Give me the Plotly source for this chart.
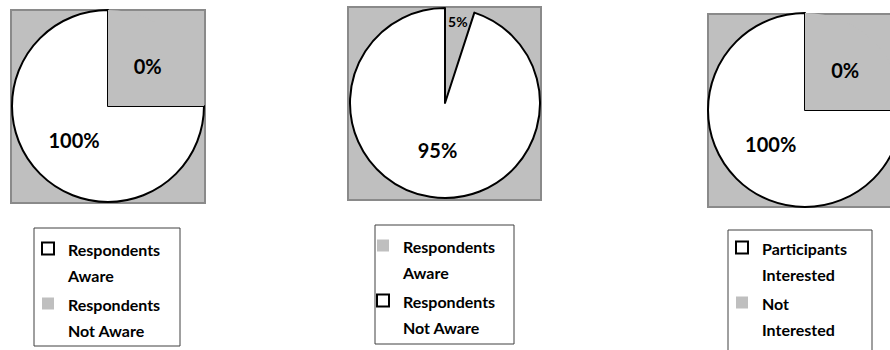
import plotly.graph_objects as go

# ---- data -------------------------------------------------------------
labels_1 = ["Respondents<br>Aware", "Respondents<br>Not Aware"]
slices_1 = [75, 25]            # shares as drawn in the reference picture
texts_1 = ["100%", "0%"]

labels_2 = ["Respondents<br>Aware\u00a0", "Respondents<br>Not Aware\u00a0"]
slices_2 = [5, 95]
texts_2 = ["5%", "95%"]

labels_3 = ["Participants<br>Interested", "Not<br>Interested"]
slices_3 = [75, 25]
texts_3 = ["100%", "0%"]

# ---- styling ----------------------------------------------------------
W, H = 905, 350
GRAY = "#BFBFBF"
WHITE = "#FFFFFF"
FONT = "Lato"


def fx(px):
    return px / W


def fy(py):
    return 1 - py / H


def styled(lbls):
    return ["<span style='font-size:16px'>" + s.replace("<br>", "</span><br><span style='font-size:16px'>") + "</span>"
            for s in lbls]


fig = go.Figure()


def add_pie(labels, values, texts, colors, widths, direction, rotation, dom_x, dom_y, legend):
    fig.add_trace(go.Pie(
        labels=styled(labels), values=values, text=texts, textinfo="text",
        textposition="inside", insidetextorientation="horizontal",
        sort=False, direction=direction, rotation=rotation,
        marker=dict(colors=colors, line=dict(color="black", width=widths)),
        textfont=dict(family=FONT, size=20, color="black", weight="bold"),
        domain=dict(x=[fx(dom_x[0]), fx(dom_x[1])], y=[fy(dom_y[1]), fy(dom_y[0])]),
        legend=legend, hoverinfo="label+text",
    ))


add_pie(labels_1, slices_1, texts_1, [WHITE, GRAY], [2, 0], "clockwise", 90,
        (12, 204), (10, 202), "legend")
add_pie(labels_2, slices_2, texts_2, [GRAY, WHITE], [0, 2], "clockwise", 0,
        (350, 540), (8, 198), "legend2")
add_pie(labels_3, slices_3, texts_3, [WHITE, GRAY], [2, 0], "clockwise", 90,
        (708, 902), (13, 207), "legend3")

shapes = []
for (x0, x1, y0, y1) in [(11, 205, 10, 203), (348, 541, 7, 200), (708, 903, 14, 207)]:
    shapes.append(dict(type="rect", xref="paper", yref="paper", layer="below",
                       x0=fx(x0), x1=fx(x1), y0=fy(y1), y1=fy(y0),
                       fillcolor=GRAY, line=dict(color="#8A8A8A", width=2)))
for (x0, x1, y0, y1) in [(34, 180, 228, 346), (375, 514, 225, 344), (728, 872, 230, 360)]:
    shapes.append(dict(type="rect", xref="paper", yref="paper", layer="below",
                       x0=fx(x0), x1=fx(x1), y0=fy(y1), y1=fy(y0),
                       fillcolor="white", line=dict(color="#404040", width=1)))


def leg(x, y):
    return dict(x=fx(x), y=fy(y), xanchor="left", yanchor="top",
                bgcolor="rgba(0,0,0,0)", borderwidth=0, valign="top",
                font=dict(family=FONT, size=20, color="black", weight="bold"),
                tracegroupgap=0, itemwidth=30)


fig.update_layout(
    width=W, height=H, margin=dict(l=0, r=0, t=0, b=0, autoexpand=False),
    paper_bgcolor="white", plot_bgcolor="white",
    showlegend=True, shapes=shapes,
    legend=leg(28, 229), legend2=leg(363, 226), legend3=leg(722, 228),
)

fig.write_html("out.html", post_script="document.body.style.overflow='hidden';document.body.style.margin='0';")
